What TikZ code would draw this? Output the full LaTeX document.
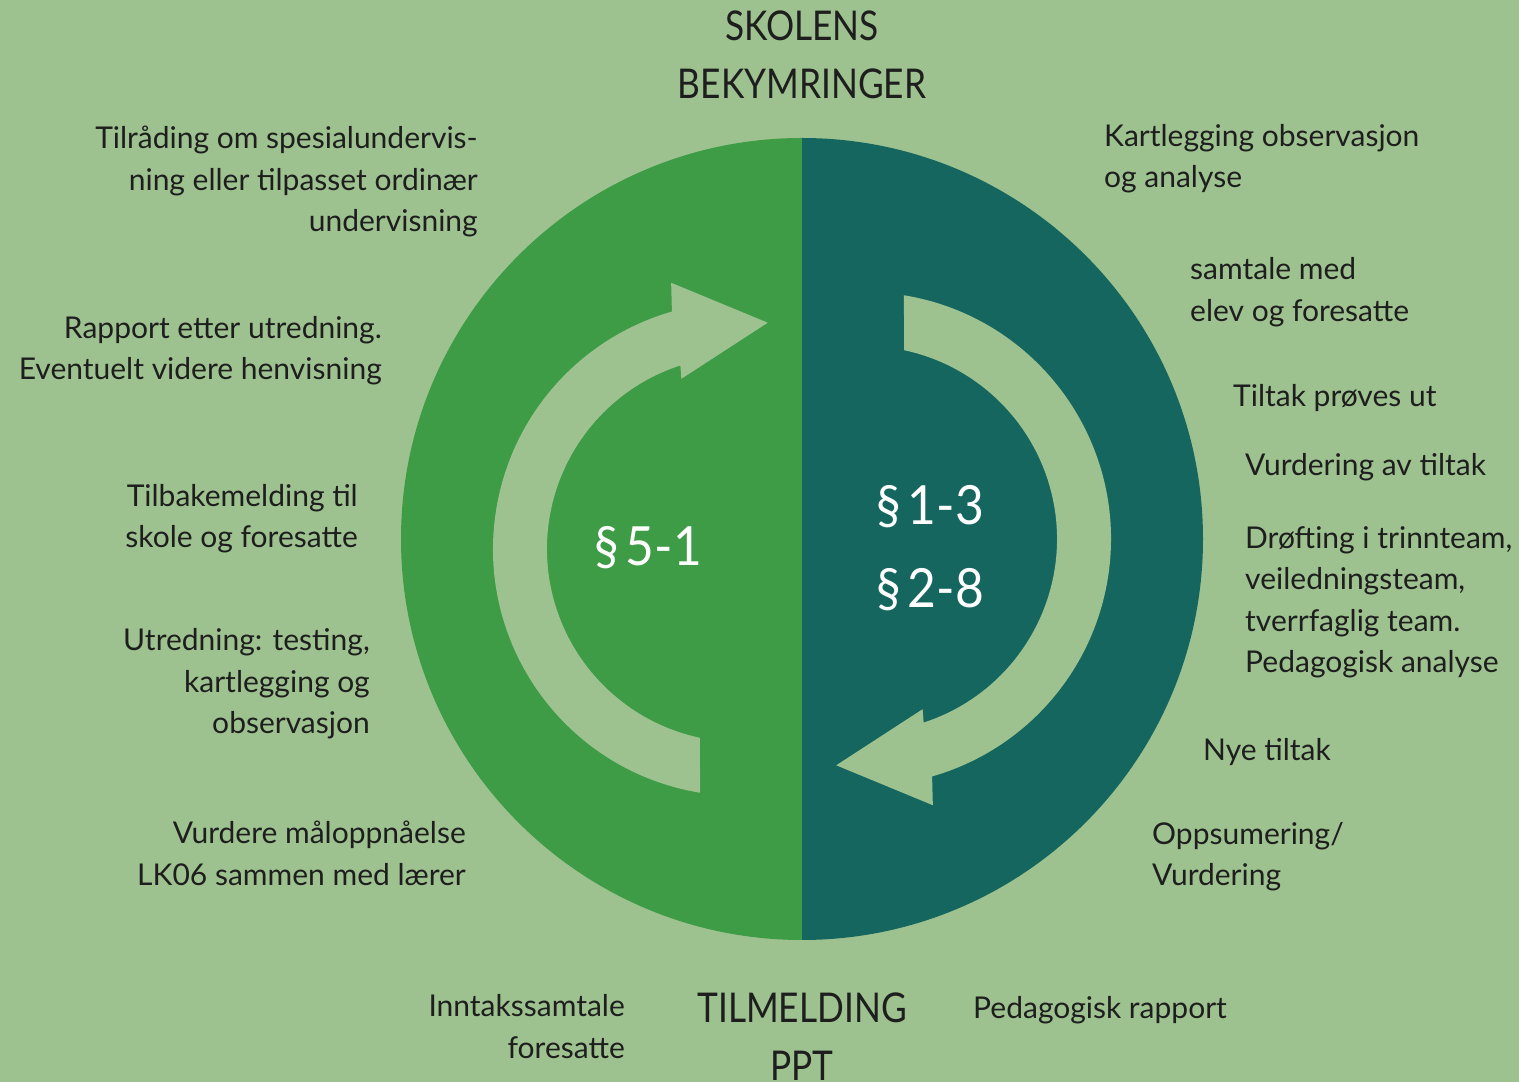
\documentclass[tikz,border=0pt]{standalone}
\usepackage{fontspec}
\setmainfont{Lato}
\newfontfamily\titlefont[FakeStretch=0.86]{Lato}
\newfontfamily\parafont[FakeStretch=0.92]{Lato}
\definecolor{bg}{HTML}{9DC28F}
\definecolor{leftgreen}{HTML}{3E9B46}
\definecolor{rightteal}{HTML}{15665F}
\definecolor{txt}{HTML}{1E1E1E}
\tikzset{
  lbl/.style={inner sep=0pt, text=txt, font=\fontsize{30}{41.5}\selectfont},
  lblL/.style={lbl, anchor=east, align=right},
  lblR/.style={lbl, anchor=west, align=left},
  title/.style={inner sep=0pt, text=txt, align=center, font=\titlefont\fontsize{41}{58}\selectfont},
  para/.style={inner sep=0pt, text=white, align=center, font=\parafont\fontsize{54}{83}\selectfont},
  arrowband/.style={fill=bg}
}
\newcommand{\parsp}{\hspace{7pt}}
\begin{document}
\begin{tikzpicture}[x=1pt,y=1pt]
\useasboundingbox (0,0) rectangle (1519,1082);
\clip (0,0) rectangle (1519,1082);
\fill[bg] (0,0) rectangle (1519,1082);
% circle halves
\fill[leftgreen] (802,944) arc[start angle=90, end angle=270, radius=401] -- cycle;
\fill[rightteal] (802,944) arc[start angle=90, end angle=-90, radius=401] -- cycle;
% right arrow (clockwise, pointing down-left)
\begin{scope}[shift={(864,543)}]
\fill[arrowband] (80.7:247) arc[start angle=80.7, end angle=-74, radius=247]
  -- (-75.5:275) -- (-97:228) -- (-71:180) -- (-72:193)
  arc[start angle=-72, end angle=78, radius=193] -- cycle;
\end{scope}
% left arrow (same shape turned half round)
\begin{scope}[shift={(740,533)}, rotate=180]
\fill[arrowband] (80.7:247) arc[start angle=80.7, end angle=-74, radius=247]
  -- (-75.5:275) -- (-97:228) -- (-71:180) -- (-72:193)
  arc[start angle=-72, end angle=78, radius=193] -- cycle;
\end{scope}
% inner labels
\node[para] (p51) at (648,534) {§\parsp5-1};
\node[para] (p13) at (930,533.5) {§\parsp1-3\\§\parsp2-8};
% titles
\node[title] (top) at (802,1027) {SKOLENS\\BEKYMRINGER};
\node[title] (bottom) at (802,45.5) {TILMELDING\\PPT};
% left labels
\node[lblL] (l1) at (478,900.5) {Tilråding om spesialundervis-\\ning eller tilpasset ordinær\\undervisning};
\node[lblL] (l2) at (382,731.5) {Rapport etter utredning.\\Eventuelt videre henvisning};
\node[lblL] (l3) at (358,563.5) {Tilbakemelding til\\skole og foresatte};
\node[lblL] (l4) at (370,398) {Utredning: testing,\\kartlegging og\\observasjon};
\node[lblL] (l5) at (466,228.5) {Vurdere måloppnåelse\\LK06 sammen med lærer};
\node[lblL] (l6) at (625,55.5) {Inntakssamtale\\foresatte};
% right labels
\node[lblR] (r1) at (1104,923.5) {Kartlegging observasjon\\og analyse};
\node[lblR] (r2) at (1190,790) {samtale med\\elev og foresatte};
\node[lblR] (r3) at (1233,684) {Tiltak prøves ut};
\node[lblR] (r4) at (1245,615) {Vurdering av tiltak};
\node[lblR] (r5) at (1245,479.5) {Drøfting i trinnteam,\\veiledningsteam,\\tverrfaglig team.\\Pedagogisk analyse};
\node[lblR] (r6) at (1203,330) {Nye tiltak};
\node[lblR] (r7) at (1152,225.5) {Oppsumering/\\Vurdering};
\node[lblR] (r8) at (973,72) {Pedagogisk rapport};
\end{tikzpicture}
\end{document}
